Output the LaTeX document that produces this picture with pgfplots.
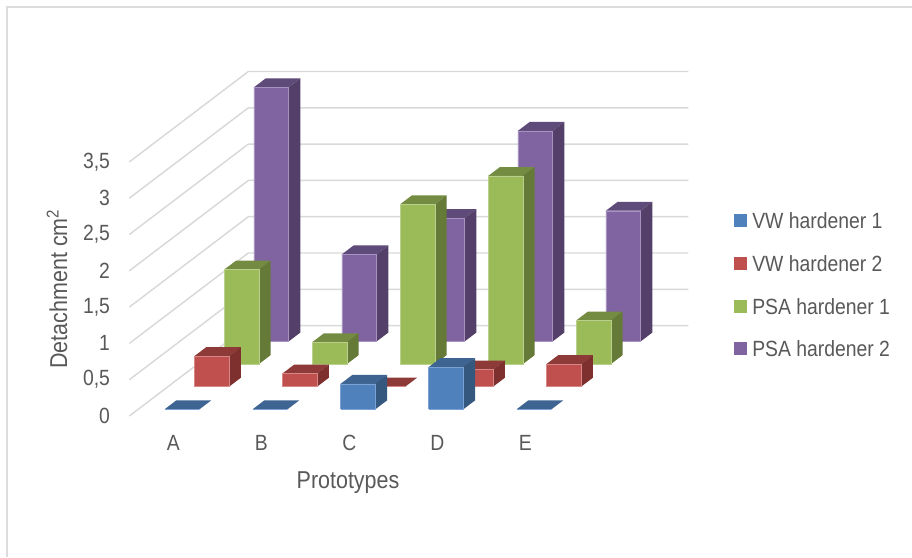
\documentclass[border=0pt]{standalone}
\usepackage{pgfplots}
\pgfplotsset{compat=1.18}
\usepackage{fontspec}
\setmainfont[FakeStretch=0.88]{Liberation Sans}

\definecolor{txt}{HTML}{595959}
\definecolor{gridc}{HTML}{D9D9D9}
\definecolor{framec}{HTML}{DCDCDC}
\definecolor{blueF}{HTML}{4F81BD}\definecolor{blueT}{HTML}{3E6592}\definecolor{blueS}{HTML}{35587F}\definecolor{blueE}{HTML}{7BA2D2}
\definecolor{redF}{HTML}{C0504D}\definecolor{redT}{HTML}{8E3A38}\definecolor{redS}{HTML}{7E302E}\definecolor{redE}{HTML}{D68886}
\definecolor{greenF}{HTML}{9BBB59}\definecolor{greenT}{HTML}{748C41}\definecolor{greenS}{HTML}{667A38}\definecolor{greenE}{HTML}{BCD08E}
\definecolor{purpleF}{HTML}{8064A2}\definecolor{purpleT}{HTML}{5F4B7A}\definecolor{purpleS}{HTML}{533F68}\definecolor{purpleE}{HTML}{A792C0}

% One column: category #1, series #2, height #3, colour prefix #4
\newcommand{\threedbar}[4]{%
  \pgfmathsetmacro\xa{#1+0.3}\pgfmathsetmacro\xb{#1+0.695}%
  \pgfmathsetmacro\ya{#2+0.3}\pgfmathsetmacro\yb{#2+0.695}%
  \edef\drawcolumn{%
    \noexpand\addplot3[fill=#4T,draw=none,mark=none] coordinates {(\xa,\ya,#3) (\xb,\ya,#3) (\xb,\yb,#3) (\xa,\yb,#3) (\xa,\ya,#3)};
    \noexpand\addplot3[fill=#4S,draw=none,mark=none] coordinates {(\xb,\ya,0) (\xb,\yb,0) (\xb,\yb,#3) (\xb,\ya,#3) (\xb,\ya,0)};
    \noexpand\addplot3[fill=#4F,draw=#4E,line width=0.3pt,mark=none] coordinates {(\xa,\ya,0) (\xb,\ya,0) (\xb,\ya,#3) (\xa,\ya,#3) (\xa,\ya,0)};
  }\drawcolumn}
% Wall gridline at height #1
\newcommand{\wallline}[1]{%
  \addplot3[gridc,line width=1.1pt,mark=none] coordinates {(0,0,#1) (0,4,#1) (5,4,#1)};}

\begin{document}
\begin{tikzpicture}[x=0.75pt,y=0.75pt]
\useasboundingbox (0,0) rectangle (912,557);
\fill[white] (0,0) rectangle (912,557);
\draw[framec,line width=1.5pt] (6.5,0) -- (6.5,549.5) -- (912,549.5);

\begin{axis}[
  at={(97pt,105.75pt)},anchor=origin,
  x={(66pt,0pt)},y={(22.3125pt,16.95pt)},z={(0pt,54.45pt)},
  xmin=0,xmax=5,ymin=0,ymax=4,zmin=0,zmax=3.5,
  hide axis,clip=false,
]
\wallline{0}\wallline{0.5}\wallline{1}\wallline{1.5}
\wallline{2}\wallline{2.5}\wallline{3}\wallline{3.5}

% PSA hardener 2
\threedbar{0}{3}{3.50}{purple}
\threedbar{1}{3}{1.20}{purple}
\threedbar{2}{3}{1.70}{purple}
\threedbar{3}{3}{2.90}{purple}
\threedbar{4}{3}{1.80}{purple}
% PSA hardener 1
\threedbar{0}{2}{1.30}{green}
\threedbar{1}{2}{0.30}{green}
\threedbar{2}{2}{2.20}{green}
\threedbar{3}{2}{2.59}{green}
\threedbar{4}{2}{0.60}{green}
% VW hardener 2
\threedbar{0}{1}{0.42}{red}
\threedbar{1}{1}{0.18}{red}
\threedbar{2}{1}{0}{red}
\threedbar{3}{1}{0.235}{red}
\threedbar{4}{1}{0.31}{red}
% VW hardener 1
\threedbar{0}{0}{0}{blue}
\threedbar{1}{0}{0}{blue}
\threedbar{2}{0}{0.35}{blue}
\threedbar{3}{0}{0.58}{blue}
\threedbar{4}{0}{0}{blue}

% Value scale
\foreach \v/\t in {0/0,0.5/{0,5},1/1,1.5/{1,5},2/2,2.5/{2,5},3/3,3.5/{3,5}}{
  \edef\temp{\noexpand\node[text=txt,anchor=east,font=\noexpand\fontsize{16.5}{17}\noexpand\selectfont,xshift=-11pt] at (axis cs:0,0,\v) {\t};}\temp
}
% Category names
\foreach \i/\c in {0/A,1/B,2/C,3/D,4/E}{
  \edef\temp{\noexpand\node[text=txt,anchor=center,font=\noexpand\fontsize{16.5}{17}\noexpand\selectfont,yshift=-20.5pt] at (axis cs:\i+0.5,0,0) {\c};}\temp
}
\end{axis}

% Axis titles
\node[text=txt,rotate=90,font=\fontsize{18.3}{19}\selectfont] at (57,268) {Detachment cm\textsuperscript{2}};
\node[text=txt,font=\fontsize{18.3}{19}\selectfont] at (348,74) {Prototypes};

% Key
\foreach \yk/\col/\lab in {336.5/blueF/VW hardener 1,293.5/redF/VW hardener 2,250.5/greenF/PSA hardener 1,208.5/purpleF/PSA hardener 2}{
  \fill[\col] (734,\yk-6.5) rectangle (747,\yk+6.5);
  \node[text=txt,anchor=west,inner sep=0pt,font=\fontsize{16.5}{17}\selectfont] at (752,\yk) {\lab};
}
\end{tikzpicture}
\end{document}
